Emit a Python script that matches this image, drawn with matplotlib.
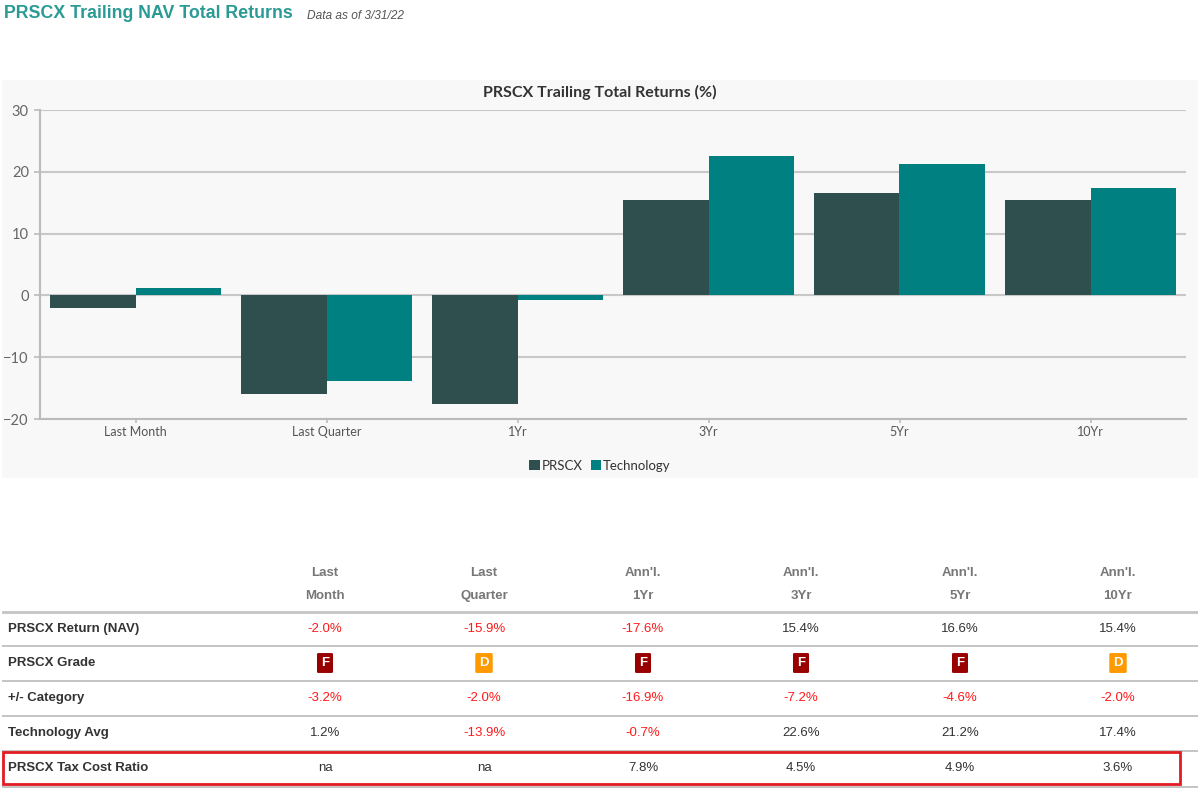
import matplotlib
matplotlib.use("Agg")
import matplotlib.pyplot as plt
from matplotlib.patches import Rectangle
from matplotlib.lines import Line2D
import numpy as np

# chart data
categories = ["Last Month", "Last Quarter", "1Yr", "3Yr", "5Yr", "10Yr"]
prscx = [-2.0, -15.9, -17.6, 15.4, 16.6, 15.4]
technology = [1.2, -13.9, -0.7, 22.6, 21.2, 17.4]

# table data
col_top = ["Last", "Last", "Ann'l.", "Ann'l.", "Ann'l.", "Ann'l."]
col_bottom = ["Month", "Quarter", "1Yr", "3Yr", "5Yr", "10Yr"]
row_labels = ["PRSCX Return (NAV)", "PRSCX Grade", "+/- Category",
              "Technology Avg", "PRSCX Tax Cost Ratio"]
nav_return = [-2.0, -15.9, -17.6, 15.4, 16.6, 15.4]
grades = ["F", "D", "F", "F", "F", "D"]
vs_category = [-3.2, -2.0, -16.9, -7.2, -4.6, -2.0]
tech_avg = [1.2, -13.9, -0.7, 22.6, 21.2, 17.4]
tax_cost = [None, None, 7.8, 4.5, 4.9, 3.6]

W, H = 1198, 792
fig = plt.figure(figsize=(W / 100, H / 100), dpi=100)
fig.patch.set_facecolor("white")


def fx(x):
    return x / W


def fy(y):
    return 1 - y / H


# heading
fig.text(fx(4), fy(14), "PRSCX Trailing NAV Total Returns", family="Liberation Sans",
         weight="bold", size=12.8, color="#2a9a94", va="center", ha="left")
fig.text(fx(307), fy(16), "Data as of 3/31/22", family="Liberation Sans",
         style="italic", size=8.6, color="#555555", va="center", ha="left")

# chart panel
fig.patches.append(Rectangle((fx(2), fy(478)), fx(1196), (478 - 80) / H,
                             transform=fig.transFigure, facecolor="#f8f8f8",
                             edgecolor="none", zorder=-5))

ax = fig.add_axes([fx(40), fy(419), fx(1146), (419 - 110) / H])
ax.set_facecolor("none")
x = np.arange(len(categories))
bw = 0.45
ax.bar(x - bw / 2, prscx, bw, color="#2f4f4f", label="PRSCX", zorder=3)
ax.bar(x + bw / 2, technology, bw, color="#008080", label="Technology", zorder=3)
ax.set_xlim(-0.5, len(categories) - 0.5)
ax.set_ylim(-20, 30)
ax.set_yticks([-20, -10, 0, 10, 20, 30])
ax.set_xticks(x)
ax.set_xticklabels(categories, family="Lato", size=9, color="#555555")
for lbl in ax.get_yticklabels():
    lbl.set_family("Lato")
    lbl.set_size(10.5)
    lbl.set_color("#666666")
ax.grid(axis="y", color="#c8c8c8", lw=1.5, zorder=1)
for s in ["top", "right"]:
    ax.spines[s].set_visible(False)
ax.spines["left"].set_color("#bbbbbb")
ax.spines["bottom"].set_color("#bbbbbb")
ax.spines["left"].set_linewidth(1.5)
ax.spines["bottom"].set_linewidth(1.5)
ax.tick_params(axis="y", length=4, color="#bbbbbb", width=1.2, pad=4)
ax.tick_params(axis="x", length=3, color="#bbbbbb", width=1.2, pad=2)
fig.text(fx(600), fy(92), "PRSCX Trailing Total Returns (%)", family="Lato",
         weight="bold", size=11.5, color="#333333", ha="center", va="center")

fig.legend(loc="center", bbox_to_anchor=(fx(600), fy(466)), ncol=2, frameon=False,
           prop={"family": "Lato", "size": 9.5}, handlelength=0.8, handleheight=0.8,
           handletextpad=0.15, columnspacing=0.6, labelcolor="#333333")

# table
col_x = [325, 484, 643, 801, 960, 1118]
row_y = [629, 663, 698, 733, 768]
font = "Liberation Sans"
for cx, top, bot in zip(col_x, col_top, col_bottom):
    fig.text(fx(cx), fy(573), top, family=font, weight="bold", size=9.5,
             color="#777777", ha="center", va="center")
    fig.text(fx(cx), fy(596), bot, family=font, weight="bold", size=9.5,
             color="#777777", ha="center", va="center")

line_y = [612, 646, 681, 716, 751, 787]
for i, ly in enumerate(line_y):
    fig.lines.append(Line2D([fx(3), fx(1198)], [fy(ly), fy(ly)], transform=fig.transFigure,
                            color="#c4c4c4", lw=2.0 if i == 0 else 1.4))

for ry, lab in zip(row_y, row_labels):
    fig.text(fx(8), fy(ry), lab, family=font, weight="bold", size=9.5,
             color="#333333", ha="left", va="center")


def pct_row(vals, ry):
    for cx, v in zip(col_x, vals):
        if v is None:
            txt, col = "na", "#333333"
        else:
            txt = f"{v:.1f}%"
            col = "#ff1a1a" if v < 0 else "#333333"
        fig.text(fx(cx), fy(ry), txt, family=font, size=9.5, color=col,
                 ha="center", va="center")


pct_row(nav_return, row_y[0])
pct_row(vs_category, row_y[2])
pct_row(tech_avg, row_y[3])
pct_row(tax_cost, row_y[4])

grade_colors = {"F": "#990000", "D": "#ff9900"}
for cx, g in zip(col_x, grades):
    fig.text(fx(cx), fy(row_y[1]), g, family=font, weight="bold", size=9.5,
             color="white", ha="center", va="center",
             bbox=dict(boxstyle="round,pad=0.3,rounding_size=0.1", fc=grade_colors[g],
                       ec="none"))

# highlight box
fig.patches.append(Rectangle((fx(3), fy(784)), fx(1177), (784 - 752) / H,
                             transform=fig.transFigure, facecolor="none",
                             edgecolor="#e31b23", lw=2.0, zorder=5))

fig.savefig("out.png", dpi=100)
